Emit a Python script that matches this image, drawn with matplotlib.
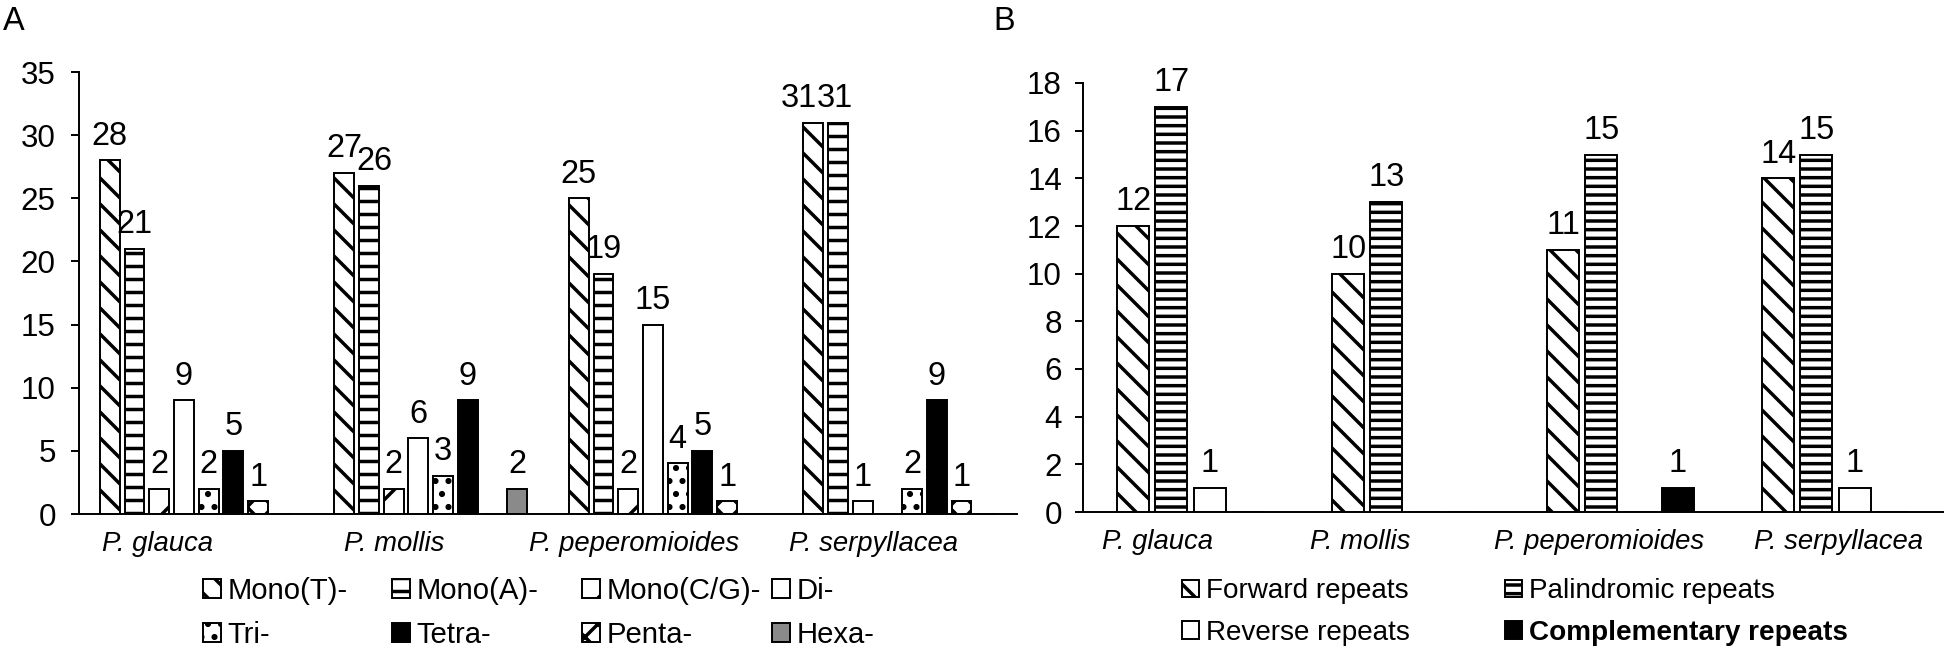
import numpy as np
import matplotlib
matplotlib.use('Agg')
import matplotlib.pyplot as plt

plt.rcParams['font.family'] = ['Liberation Sans', 'DejaVu Sans']
plt.rcParams['hatch.linewidth'] = 1.6

# ---- data ----
species = ['P. glauca', 'P. mollis', 'P. peperomioides', 'P. serpyllacea']

ssr_types = ['Mono(T)-', 'Mono(A)-', 'Mono(C/G)-', 'Di-', 'Tri-', 'Tetra-', 'Penta-', 'Hexa-']
mono_t = [28, 27, 25, 31]
mono_a = [21, 26, 19, 31]
mono_cg = [2, 2, 2, 1]
di = [9, 6, 15, 0]
tri = [2, 3, 4, 2]
tetra = [5, 9, 5, 9]
penta = [1, 0, 1, 1]
hexa = [0, 2, 0, 0]

repeat_types = ['Forward repeats', 'Palindromic repeats', 'Reverse repeats', 'Complementary repeats']
forward = [12, 10, 11, 14]
palindromic = [17, 13, 15, 15]
reverse = [1, 0, 0, 1]
complementary = [0, 0, 1, 0]

# ---- styles ----
ssr_styles = [
    dict(facecolor='white', hatch='\\\\'),
    dict(facecolor='white', hatch='--'),
    dict(facecolor='white', hatch='/'),
    dict(facecolor='white', hatch=None),
    dict(facecolor='white', hatch='..'),
    dict(facecolor='black', hatch=None),
    dict(facecolor='white', hatch='xx'),
    dict(facecolor='#8a8a8a', hatch=None),
]
rep_styles = [
    dict(facecolor='white', hatch='\\\\'),
    dict(facecolor='white', hatch='---'),
    dict(facecolor='white', hatch=None),
    dict(facecolor='black', hatch=None),
]

DPI = 156
W, H = 1946, 651
fig = plt.figure(figsize=(W / DPI, H / DPI), dpi=DPI)


def px_axes(left, right, bottom, top):
    return fig.add_axes([left / W, 1 - bottom / H, (right - left) / W, (bottom - top) / H])


def grouped_bars(ax, series, styles, names, slot, width, label_size):
    n = len(series)
    x = np.arange(len(species))
    handles, texts = [], []
    for j, (vals, st, name) in enumerate(zip(series, styles, names)):
        pos = x - n * slot / 2 + slot * (j + 0.5)
        bars = ax.bar(pos, vals, width, edgecolor='black', linewidth=0.9,
                      label=name, **st)
        texts.append(ax.bar_label(bars, labels=[str(v) if v else '' for v in vals],
                                  padding=4, fontsize=label_size))
        handles.append(bars)
    return handles, texts


def style_axis(ax, ymax, step, tick_offsets, pad):
    ax.set_xlim(-0.5, len(species) - 0.5)
    ax.set_ylim(0, ymax)
    ax.set_yticks(np.arange(0, ymax + 0.1, step))
    ax.set_xticks(np.arange(len(species)) + np.array(tick_offsets))
    ax.set_xticklabels(species, fontstyle='italic', fontsize=12.7)
    ax.tick_params(axis='x', length=0, pad=8)
    ax.tick_params(axis='y', length=3.7, width=0.9, pad=pad, labelsize=14.5)
    for s in ['top', 'right']:
        ax.spines[s].set_visible(False)
    for s in ['left', 'bottom']:
        ax.spines[s].set_linewidth(0.9)


def column_legends(handles, names, col_x, y_center, size, bold_last=False):
    cols = [list(range(c, len(handles), len(col_x))) for c in range(len(col_x))]
    for c, idx in enumerate(cols):
        leg = fig.legend([handles[i] for i in idx], [names[i] for i in idx],
                         loc='center left', bbox_to_anchor=(col_x[c] / W, 1 - y_center / H),
                         bbox_transform=fig.transFigure, frameon=False, fontsize=size,
                         handlelength=0.6, handleheight=0.6, handletextpad=0.25,
                         borderpad=0, borderaxespad=0, labelspacing=0.55)
        if bold_last:
            for i, t in zip(idx, leg.get_texts()):
                if i == len(handles) - 1:
                    t.set_fontweight('bold')


# ---- panel A ----
axA = px_axes(79, 1017, 514, 72)
hA, tA = grouped_bars(axA, [mono_t, mono_a, mono_cg, di, tri, tetra, penta, hexa],
                      ssr_styles, ssr_types, slot=0.1055, width=0.0844, label_size=15)
# nudge crowded labels apart like in the original
tA[0][3].xyann = (-6.5, 4)
tA[1][3].xyann = (-1.5, 4)
tA[1][1].xyann = (2.5, 4)
style_axis(axA, 35, 5, [-0.165, -0.156, -0.131, -0.114], pad=7)
column_legends(hA, ssr_types, [203, 392, 582, 772], 613, 13.5)

# ---- panel B ----
axB = px_axes(1083, 1943, 512, 83)
hB, tB = grouped_bars(axB, [forward, palindromic, reverse, complementary],
                      rep_styles, repeat_types, slot=0.177, width=0.149, label_size=15)
style_axis(axB, 18, 2, [-0.153, -0.21, -0.102, 0.014], pad=6)
column_legends(hB, repeat_types, [1182, 1505], 612, 12.9, bold_last=True)

fig.text(3 / W, 1 - 6 / H, 'A', fontsize=15, va='top', ha='left')
fig.text(993 / W, 1 - 6 / H, 'B', fontsize=15, va='top', ha='left')

fig.savefig('out.png', dpi=DPI)
